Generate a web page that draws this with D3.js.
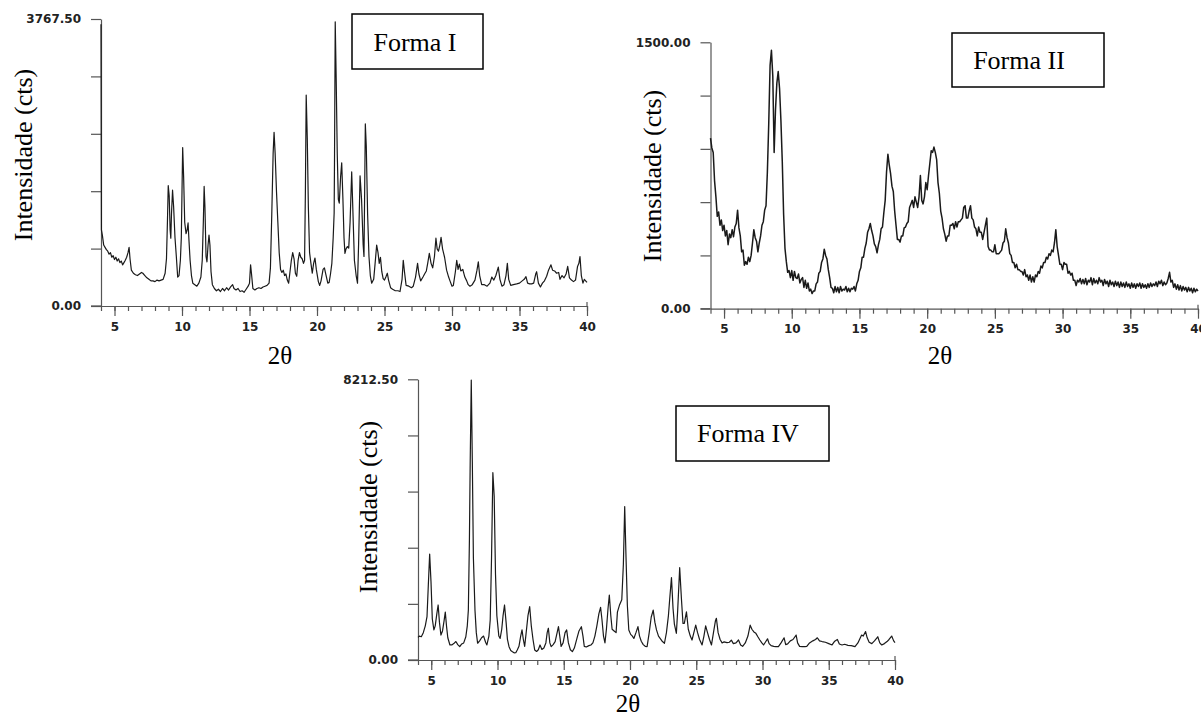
<!DOCTYPE html>
<html><head><meta charset="utf-8">
<script src="https://cdn.jsdelivr.net/npm/d3@7/dist/d3.min.js"></script>
<style>body{margin:0;background:#fff}svg{display:block}</style>
</head><body><svg id="c" width="1201" height="724"></svg>
<script>
// ---- data (2θ, intensity in cts) ----
const formaI = [[4.0,3700],[4.03,1000],[4.1,930],[4.2,800],[4.3,770],[4.4,740],[4.5,720],[4.6,680],[4.7,700],[4.8,640],[4.9,660],[5.0,610],[5.1,640],[5.2,590],[5.3,620],[5.4,570],[5.5,590],[5.6,540],[5.7,570],[5.8,600],[5.9,640],[6.0,700],[6.08,770],[6.15,620],[6.25,470],[6.4,430],[6.55,410],[6.7,400],[6.85,420],[7.0,440],[7.1,430],[7.25,400],[7.4,370],[7.55,350],[7.7,330],[7.85,330],[8.0,320],[8.15,340],[8.3,330],[8.45,340],[8.6,350],[8.75,430],[8.85,620],[8.92,1100],[8.98,1580],[9.05,1450],[9.12,1000],[9.17,890],[9.22,1200],[9.3,1520],[9.38,1300],[9.48,900],[9.58,650],[9.68,380],[9.78,400],[9.88,600],[9.95,900],[10.0,1500],[10.05,2080],[10.12,1700],[10.2,1100],[10.3,950],[10.38,1000],[10.45,1090],[10.52,850],[10.6,600],[10.7,400],[10.8,300],[10.95,280],[11.1,260],[11.25,300],[11.4,380],[11.5,600],[11.58,1100],[11.64,1570],[11.7,1300],[11.78,650],[11.85,580],[11.93,800],[12.0,930],[12.07,800],[12.15,450],[12.25,280],[12.4,230],[12.55,200],[12.7,220],[12.85,190],[13.0,230],[13.15,200],[13.3,240],[13.45,210],[13.6,250],[13.75,280],[13.85,230],[14.0,210],[14.15,230],[14.3,190],[14.45,200],[14.6,180],[14.75,220],[14.9,260],[15.0,300],[15.08,540],[15.15,420],[15.25,230],[15.4,210],[15.55,230],[15.7,240],[15.85,230],[16.0,250],[16.15,260],[16.3,270],[16.45,300],[16.55,500],[16.65,1200],[16.75,2000],[16.82,2280],[16.9,2000],[17.0,1500],[17.1,1100],[17.2,700],[17.3,480],[17.4,440],[17.5,470],[17.6,400],[17.7,420],[17.8,340],[17.9,300],[18.0,450],[18.1,600],[18.2,700],[18.3,620],[18.4,430],[18.5,390],[18.6,600],[18.7,700],[18.8,640],[18.9,620],[19.0,560],[19.08,600],[19.14,1500],[19.2,2770],[19.28,2200],[19.36,1300],[19.45,700],[19.55,560],[19.65,430],[19.75,560],[19.85,630],[19.95,480],[20.1,320],[20.2,270],[20.3,330],[20.45,480],[20.55,500],[20.65,420],[20.8,300],[20.9,310],[21.0,420],[21.1,560],[21.2,900],[21.27,1220],[21.3,2000],[21.35,3730],[21.42,3000],[21.5,2000],[21.58,1400],[21.65,1350],[21.75,1700],[21.83,1880],[21.92,1400],[22.0,900],[22.07,690],[22.15,750],[22.25,780],[22.35,760],[22.45,1100],[22.57,1760],[22.65,1300],[22.77,600],[22.9,400],[23.0,300],[23.08,800],[23.19,1710],[23.3,1400],[23.42,800],[23.48,650],[23.53,1500],[23.58,2390],[23.65,2100],[23.75,1200],[23.85,650],[23.95,400],[24.05,300],[24.2,350],[24.3,550],[24.42,800],[24.52,700],[24.61,560],[24.7,640],[24.8,450],[24.9,360],[25.0,340],[25.1,380],[25.21,430],[25.3,340],[25.45,240],[25.6,220],[25.8,200],[26.0,200],[26.15,190],[26.3,350],[26.39,600],[26.48,450],[26.6,270],[26.8,260],[27.0,240],[27.13,260],[27.3,380],[27.45,560],[27.55,420],[27.68,330],[27.85,380],[28.0,430],[28.1,460],[28.2,560],[28.32,690],[28.45,560],[28.57,500],[28.7,650],[28.81,890],[28.9,750],[29.0,720],[29.1,800],[29.19,900],[29.3,750],[29.45,640],[29.6,470],[29.75,380],[29.85,330],[30.0,260],[30.1,270],[30.25,450],[30.35,600],[30.45,480],[30.55,550],[30.65,460],[30.8,480],[30.95,380],[31.09,330],[31.2,280],[31.33,260],[31.5,280],[31.7,340],[31.85,470],[31.95,580],[32.05,400],[32.2,280],[32.4,280],[32.6,260],[32.81,300],[32.95,380],[33.1,340],[33.25,400],[33.43,510],[33.55,350],[33.7,260],[33.85,280],[34.0,400],[34.1,560],[34.2,350],[34.35,270],[34.55,280],[34.79,290],[35.0,300],[35.2,330],[35.35,350],[35.48,385],[35.6,300],[35.75,290],[35.9,290],[36.05,300],[36.2,420],[36.27,450],[36.4,300],[36.55,250],[36.7,300],[36.85,330],[37.01,390],[37.15,470],[37.33,540],[37.45,470],[37.6,460],[37.75,430],[37.9,440],[38.0,350],[38.15,400],[38.3,370],[38.45,420],[38.57,520],[38.7,370],[38.85,340],[39.0,320],[39.15,340],[39.3,520],[39.4,560],[39.48,650],[39.58,400],[39.7,300],[39.8,350],[39.9,330],[40.0,310]];

const formaII = [[4.0,960],[4.1,905],[4.2,880],[4.3,720],[4.4,630],[4.5,520],[4.6,545],[4.7,470],[4.8,500],[4.9,440],[5.0,470],[5.1,410],[5.2,440],[5.3,360],[5.4,420],[5.5,400],[5.6,445],[5.7,405],[5.8,460],[5.9,480],[6.0,555],[6.1,455],[6.2,410],[6.3,320],[6.4,330],[6.5,245],[6.6,265],[6.7,250],[6.8,290],[6.9,265],[7.0,300],[7.1,370],[7.2,445],[7.3,400],[7.4,380],[7.5,320],[7.6,370],[7.7,410],[7.8,470],[7.9,490],[8.0,555],[8.1,580],[8.2,770],[8.3,1040],[8.4,1370],[8.5,1455],[8.6,1310],[8.7,880],[8.8,1120],[8.9,1270],[9.0,1335],[9.1,1240],[9.2,1060],[9.3,830],[9.4,530],[9.5,340],[9.6,265],[9.7,205],[9.8,215],[9.9,175],[10.0,215],[10.1,160],[10.2,210],[10.3,175],[10.4,170],[10.5,195],[10.6,145],[10.7,165],[10.8,175],[10.9,120],[11.0,160],[11.1,115],[11.2,145],[11.3,100],[11.4,110],[11.5,85],[11.6,100],[11.7,100],[11.8,140],[11.9,150],[12.0,200],[12.1,210],[12.2,260],[12.3,280],[12.4,335],[12.5,300],[12.6,280],[12.7,220],[12.8,175],[12.9,120],[13.0,115],[13.1,90],[13.2,125],[13.3,95],[13.4,120],[13.5,90],[13.6,125],[13.7,100],[13.8,110],[13.9,105],[14.0,125],[14.1,95],[14.2,115],[14.3,95],[14.4,115],[14.5,110],[14.6,125],[14.7,100],[14.8,140],[14.9,160],[15.0,210],[15.1,230],[15.2,290],[15.3,290],[15.4,340],[15.5,370],[15.6,430],[15.7,450],[15.8,480],[15.9,440],[16.0,410],[16.1,365],[16.2,350],[16.3,315],[16.4,360],[16.5,390],[16.6,450],[16.7,460],[16.8,540],[16.9,610],[17.0,770],[17.1,870],[17.2,810],[17.3,760],[17.4,690],[17.5,660],[17.6,550],[17.7,470],[17.8,390],[17.9,390],[18.0,375],[18.1,410],[18.2,410],[18.3,455],[18.4,460],[18.5,480],[18.6,490],[18.7,570],[18.8,590],[18.9,610],[19.0,570],[19.1,630],[19.2,600],[19.3,570],[19.4,630],[19.5,750],[19.6,610],[19.7,590],[19.8,630],[19.9,710],[20.0,670],[20.1,750],[20.2,820],[20.3,890],[20.4,880],[20.5,910],[20.6,880],[20.7,840],[20.8,710],[20.9,650],[21.0,550],[21.1,510],[21.2,450],[21.3,420],[21.4,380],[21.5,410],[21.6,410],[21.7,470],[21.8,470],[21.9,480],[22.0,450],[22.1,490],[22.2,460],[22.3,490],[22.4,490],[22.5,500],[22.6,510],[22.7,570],[22.8,580],[22.9,510],[23.0,510],[23.1,550],[23.2,580],[23.3,510],[23.4,500],[23.5,460],[23.6,450],[23.7,410],[23.8,460],[23.9,430],[24.0,430],[24.1,390],[24.2,430],[24.3,470],[24.4,510],[24.5,350],[24.6,330],[24.7,330],[24.8,320],[24.9,320],[25.0,360],[25.1,310],[25.2,310],[25.3,310],[25.4,320],[25.5,330],[25.6,370],[25.7,380],[25.8,450],[25.9,400],[26.0,370],[26.1,310],[26.2,300],[26.3,260],[26.4,260],[26.5,230],[26.6,250],[26.7,220],[26.8,220],[26.9,210],[27.0,210],[27.1,190],[27.2,220],[27.3,180],[27.4,190],[27.5,160],[27.6,190],[27.7,150],[27.8,180],[27.9,150],[28.0,190],[28.1,180],[28.2,210],[28.3,200],[28.4,240],[28.5,230],[28.6,260],[28.7,260],[28.8,290],[28.9,280],[29.0,310],[29.1,300],[29.2,330],[29.3,320],[29.4,370],[29.5,445],[29.6,350],[29.7,300],[29.8,250],[29.9,250],[30.0,220],[30.1,260],[30.2,250],[30.3,250],[30.4,200],[30.5,210],[30.6,190],[30.7,200],[30.8,160],[30.9,160],[31.0,130],[31.1,160],[31.2,150],[31.3,170],[31.4,140],[31.5,165],[31.6,140],[31.7,170],[31.8,135],[31.9,160],[32.0,150],[32.1,175],[32.2,135],[32.3,170],[32.4,145],[32.5,160],[32.6,140],[32.7,175],[32.8,150],[32.9,160],[33.0,130],[33.1,165],[33.2,140],[33.3,155],[33.4,125],[33.5,160],[33.6,135],[33.7,150],[33.8,125],[33.9,155],[34.0,130],[34.1,150],[34.2,120],[34.3,150],[34.4,125],[34.5,145],[34.6,120],[34.7,150],[34.8,125],[34.9,140],[35.0,115],[35.1,145],[35.2,120],[35.3,140],[35.4,115],[35.5,140],[35.6,125],[35.7,145],[35.8,115],[35.9,140],[36.0,120],[36.1,135],[36.2,115],[36.3,140],[36.4,120],[36.5,145],[36.6,125],[36.7,140],[36.8,130],[36.9,150],[37.0,125],[37.1,155],[37.2,140],[37.3,160],[37.4,130],[37.5,150],[37.6,135],[37.7,145],[37.8,170],[37.9,205],[38.0,150],[38.1,160],[38.2,120],[38.3,140],[38.4,110],[38.5,135],[38.6,105],[38.7,130],[38.8,100],[38.9,125],[39.0,105],[39.1,120],[39.2,95],[39.3,120],[39.4,100],[39.5,115],[39.6,90],[39.7,115],[39.8,95],[39.9,110],[40.0,100]];

const formaIV = [[4.0,660],[4.1,700],[4.25,680],[4.4,800],[4.55,1000],[4.68,1270],[4.78,2200],[4.88,3100],[4.98,2300],[5.08,1200],[5.2,880],[5.3,1000],[5.42,1350],[5.52,1610],[5.62,1100],[5.73,730],[5.85,850],[5.97,1150],[6.06,1400],[6.15,1000],[6.25,650],[6.41,440],[6.55,440],[6.7,480],[6.86,540],[7.0,450],[7.15,390],[7.3,470],[7.45,500],[7.61,680],[7.72,1000],[7.8,1460],[7.88,3500],[7.94,5800],[8.02,8190],[8.1,5800],[8.18,3000],[8.3,1460],[8.4,800],[8.5,490],[8.65,560],[8.8,650],[8.95,700],[9.1,520],[9.2,440],[9.35,700],[9.45,1170],[9.55,3000],[9.65,5480],[9.75,4800],[9.85,2500],[9.95,1300],[10.1,700],[10.2,630],[10.32,900],[10.42,1300],[10.53,1610],[10.65,1100],[10.75,600],[10.87,390],[11.0,280],[11.13,240],[11.25,210],[11.38,214],[11.5,300],[11.62,400],[11.75,700],[11.85,880],[11.95,600],[12.05,400],[12.15,750],[12.3,1300],[12.43,1560],[12.55,1000],[12.68,600],[12.81,290],[12.95,250],[13.08,300],[13.21,440],[13.35,310],[13.5,350],[13.65,500],[13.75,800],[13.84,930],[13.95,500],[14.05,390],[14.2,450],[14.35,536],[14.5,800],[14.6,975],[14.7,700],[14.8,400],[14.95,500],[15.1,800],[15.22,880],[15.35,500],[15.5,300],[15.65,244],[15.8,350],[16.0,640],[16.15,850],[16.33,975],[16.45,700],[16.55,400],[16.7,380],[16.9,420],[17.05,440],[17.2,500],[17.35,700],[17.5,1000],[17.65,1350],[17.78,1540],[17.88,1200],[18.0,700],[18.11,500],[18.22,900],[18.34,1500],[18.44,1900],[18.55,1300],[18.65,900],[18.8,850],[18.95,800],[19.05,1400],[19.2,1600],[19.38,1760],[19.5,2800],[19.6,4490],[19.7,3000],[19.8,1600],[19.91,880],[20.05,750],[20.18,700],[20.29,630],[20.45,800],[20.6,975],[20.72,700],[20.85,550],[21.0,450],[21.15,400],[21.29,390],[21.45,800],[21.6,1250],[21.75,1460],[21.88,1100],[22.0,880],[22.15,700],[22.3,620],[22.45,540],[22.6,490],[22.75,800],[22.9,1300],[23.0,1800],[23.13,2410],[23.25,1500],[23.35,1050],[23.5,780],[23.6,1460],[23.75,2700],[23.88,1800],[24.0,1070],[24.1,1070],[24.26,1410],[24.4,900],[24.55,700],[24.68,585],[24.82,800],[24.96,1020],[25.1,800],[25.25,600],[25.44,440],[25.58,700],[25.71,1000],[25.85,800],[26.0,600],[26.15,440],[26.3,800],[26.45,1150],[26.52,1220],[26.65,800],[26.8,600],[26.95,500],[27.1,530],[27.32,510],[27.5,520],[27.65,580],[27.8,480],[28.0,500],[28.19,585],[28.35,440],[28.5,400],[28.7,500],[28.9,700],[29.07,1020],[29.2,900],[29.35,820],[29.5,780],[29.65,680],[29.8,585],[29.95,500],[30.08,440],[30.25,540],[30.38,620],[30.5,480],[30.65,420],[30.85,400],[31.0,390],[31.2,390],[31.4,500],[31.63,650],[31.75,450],[31.9,470],[32.1,560],[32.3,600],[32.54,730],[32.65,500],[32.8,400],[33.0,390],[33.2,390],[33.34,400],[33.55,500],[33.8,560],[34.0,600],[34.14,650],[34.3,560],[34.5,540],[34.75,520],[35.0,480],[35.25,440],[35.45,550],[35.65,600],[35.8,470],[36.0,440],[36.2,460],[36.45,430],[36.7,420],[36.98,390],[37.2,500],[37.48,730],[37.6,700],[37.78,830],[37.9,650],[38.05,520],[38.25,480],[38.45,560],[38.7,680],[38.85,500],[39.0,440],[39.2,480],[39.4,540],[39.55,600],[39.75,700],[39.9,560],[40.0,510]];

const yMaxes = [3767.5, 1500, 8212.5];
const titles = ["Forma I", "Forma II", "Forma IV"];
const xMajorTicks = [5, 10, 15, 20, 25, 30, 35, 40];
const xMinorTicks = d3.range(4, 41, 1);
const xDomain = [4, 40];
const yLabel = "Intensidade (cts)";
const xLabel = "2θ";

// ---- layout ----
const layouts = [
  {x0:101, x1:587, yTop:19, yBot:306, ylx:23, yly:155, xlx:280, xly:364, box:[352,14,131,55], tx:415, ty:51},
  {x0:710.5, x1:1198, yTop:42.3, yBot:308.7, ylx:652, yly:176, xlx:940, xly:364, box:[952,33,152,54], tx:1019, ty:69},
  {x0:418, x1:895, yTop:379.3, yBot:660, ylx:368, yly:507, xlx:628, xly:712, box:[676,406,153,55], tx:748, ty:442}
];
const series = [formaI, formaII, formaIV];

const svg = d3.select("#c");
const serif = "'Liberation Serif','Times New Roman',serif";
const sans = "'DejaVu Sans',sans-serif";

layouts.forEach((L, i) => {
  const xs = d3.scaleLinear().domain(xDomain).range([L.x0, L.x1]);
  const ys = d3.scaleLinear().domain([0, yMaxes[i]]).range([L.yBot, L.yTop]);
  const g = svg.append("g");

  // y axis
  const yTicks = d3.range(0, 6).map(k => yMaxes[i] * k / 5);
  const yAx = g.append("g").attr("transform", `translate(${L.x0},0)`)
    .call(d3.axisLeft(ys).tickValues(yTicks).tickSize(10).tickSizeOuter(0)
      .tickFormat((d, k) => (k === 0 || k === 5) ? d3.format(".2f")(d) : ""));
  // x minor
  const xMin = g.append("g").attr("transform", `translate(0,${L.yBot})`)
    .call(d3.axisBottom(xs).tickValues(xMinorTicks).tickSize(5).tickSizeOuter(0).tickFormat(""));
  // x major
  const xMaj = g.append("g").attr("transform", `translate(0,${L.yBot})`)
    .call(d3.axisBottom(xs).tickValues(xMajorTicks).tickSize(10).tickSizeOuter(0).tickFormat(d3.format("d")));
  xMaj.select(".domain").remove();
  // extend x axis line left under y ticks
  g.append("line").attr("x1", L.x0 - 10).attr("x2", L.x0).attr("y1", L.yBot).attr("y2", L.yBot)
    .attr("stroke", "#555").attr("stroke-width", 1.2);
  // small up-tick at x=40
  g.append("line").attr("x1", xs(40)).attr("x2", xs(40)).attr("y1", L.yBot - 4).attr("y2", L.yBot)
    .attr("stroke", "#555").attr("stroke-width", 1.2);

  [yAx, xMin, xMaj].forEach(a => {
    a.selectAll(".domain, line").attr("stroke", "#555").attr("stroke-width", 1.2);
    a.selectAll("text").attr("font-family", sans).attr("font-weight", "bold")
      .attr("font-size", 12).attr("fill", "#222");
  });
  yAx.selectAll("text").attr("x", -20);
  xMaj.selectAll("text").attr("y", 16);

  // curve
  g.append("path").datum(series[i])
    .attr("fill", "none").attr("stroke", "#1a1a1a").attr("stroke-width", i === 1 ? 1.5 : 1.2)
    .attr("stroke-linejoin", "round")
    .attr("d", d3.line().x(d => xs(d[0])).y(d => ys(d[1])));

  // labels
  g.append("text").attr("transform", `translate(${L.ylx},${L.yly}) rotate(-90)`)
    .attr("text-anchor", "middle").attr("dominant-baseline", "central")
    .attr("font-family", serif).attr("font-size", 26).attr("fill", "#000").text(yLabel);
  g.append("text").attr("x", L.xlx).attr("y", L.xly).attr("text-anchor", "middle")
    .attr("font-family", serif).attr("font-size", 25).attr("fill", "#000").text(xLabel);

  // title box
  g.append("rect").attr("x", L.box[0]).attr("y", L.box[1]).attr("width", L.box[2]).attr("height", L.box[3])
    .attr("fill", "#fff").attr("stroke", "#000").attr("stroke-width", 1.5);
  g.append("text").attr("x", L.tx).attr("y", L.ty).attr("text-anchor", "middle")
    .attr("font-family", serif).attr("font-size", 26).attr("fill", "#000").text(titles[i]);
});
</script></body></html>
